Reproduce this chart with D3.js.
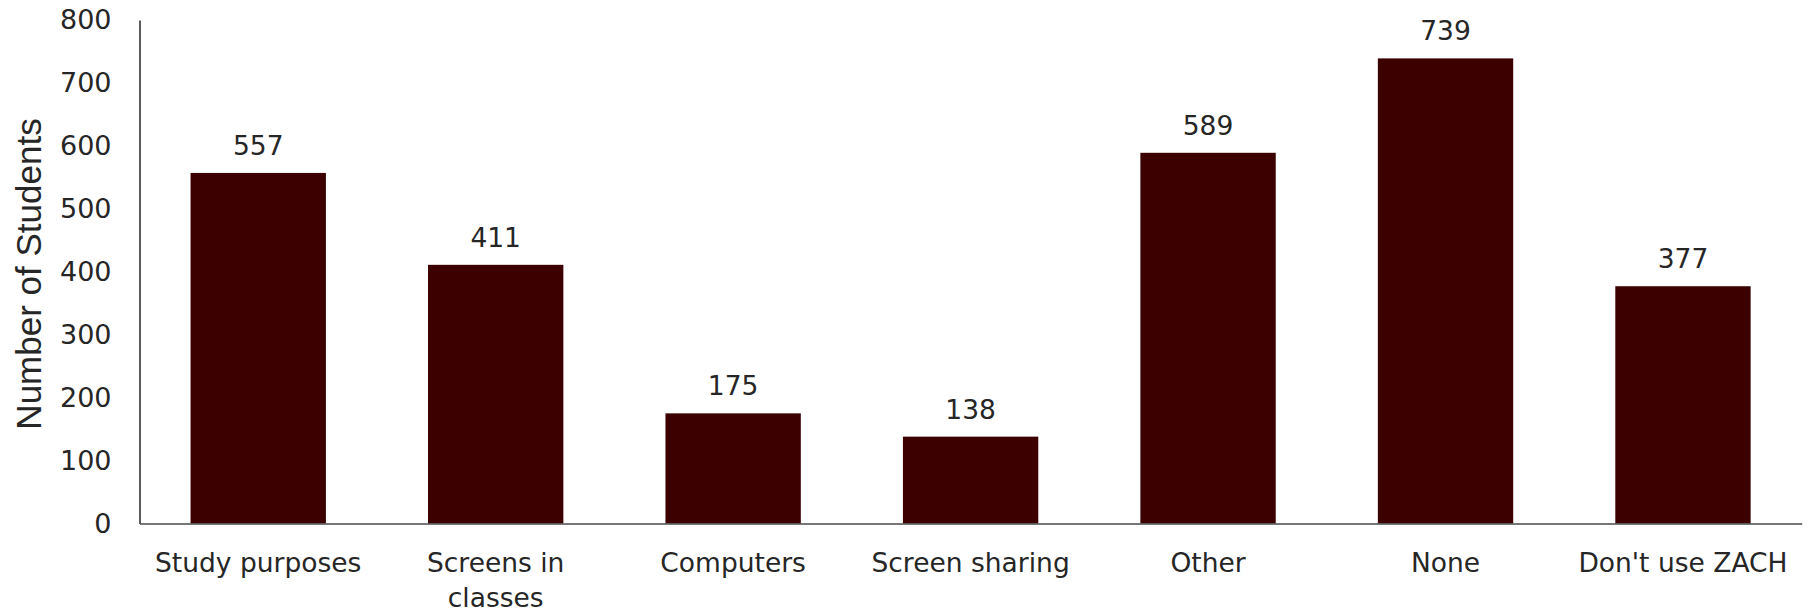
<!DOCTYPE html>
<html>
<head>
<meta charset="utf-8">
<script src="https://cdn.jsdelivr.net/npm/d3@7"></script>
<style>
  html, body { margin: 0; padding: 0; background: #fff; }
  svg { display: block; }
</style>
</head>
<body>
<svg id="chart" width="1808" height="611"></svg>
<script>
// Categories (multi-line labels split on "\n") and counts
const categories = [
  "Study purposes",
  "Screens in\nclasses",
  "Computers",
  "Screen sharing",
  "Other",
  "None",
  "Don't use ZACH"
];
const counts = [557, 411, 175, 138, 589, 739, 377];
const yTicks = [0, 100, 200, 300, 400, 500, 600, 700, 800];

const data = categories.map((c, i) => ({ key: c, value: counts[i] }));

const svg = d3.select("#chart");
const plotLeft = 139.5, plotRight = 1801.7, plotTop = 20, plotBottom = 523.5;

const x = d3.scaleBand()
  .domain(categories)
  .range([plotLeft, plotRight])
  .paddingInner(0.43)
  .paddingOuter(0.215);

const y = d3.scaleLinear()
  .domain([0, 800])
  .range([plotBottom, plotTop]);

const textColor = "#262626";
const barColor = "#3d0000";

// Bars
svg.append("g").selectAll("rect")
  .data(data)
  .join("rect")
  .attr("x", d => x(d.key))
  .attr("y", d => y(d.value))
  .attr("width", x.bandwidth())
  .attr("height", d => y(0) - y(d.value))
  .attr("fill", barColor);

// Value labels above bars
svg.append("g").selectAll("text")
  .data(data)
  .join("text")
  .attr("x", d => x(d.key) + x.bandwidth() / 2)
  .attr("y", d => y(d.value) - 18)
  .attr("text-anchor", "middle")
  .attr("font-family", "DejaVu Sans, sans-serif")
  .attr("font-size", 26.5)
  .attr("fill", textColor)
  .text(d => d.value);

// Y axis
const yAxis = svg.append("g")
  .attr("transform", `translate(${plotLeft},0)`)
  .call(d3.axisLeft(y).tickValues(yTicks).tickSize(0).tickPadding(28));
yAxis.select(".domain").attr("stroke", "#262626").attr("stroke-width", 1.5);
yAxis.selectAll("text")
  .attr("font-family", "DejaVu Sans, sans-serif")
  .attr("font-size", 27)
  .attr("fill", textColor);

// X axis
const xAxis = svg.append("g")
  .attr("transform", `translate(0,${plotBottom})`)
  .call(d3.axisBottom(x).tickSize(0).tickFormat(""));
xAxis.select(".domain").attr("stroke", "#4a4a4a").attr("stroke-width", 1.5);

// Category labels, wrapped onto separate lines
const xl = svg.append("g").selectAll("text")
  .data(categories)
  .join("text")
  .attr("x", d => x(d) + x.bandwidth() / 2)
  .attr("y", 572)
  .attr("text-anchor", "middle")
  .attr("font-family", "DejaVu Sans, sans-serif")
  .attr("font-size", 26.5)
  .attr("fill", textColor);
xl.each(function(d) {
  const t = d3.select(this);
  d.split("\n").forEach((line, i) => {
    t.append("tspan")
      .attr("x", x(d) + x.bandwidth() / 2)
      .attr("dy", i === 0 ? 0 : 35)
      .text(line);
  });
});

// Y axis title
svg.append("text")
  .attr("transform", `translate(41,${(115 + 433) / 2}) rotate(-90)`)
  .attr("text-anchor", "middle")
  .attr("font-family", "Liberation Sans, Arial, sans-serif")
  .attr("font-size", 35)
  .attr("fill", textColor)
  .text("Number of Students");
</script>
</body>
</html>
